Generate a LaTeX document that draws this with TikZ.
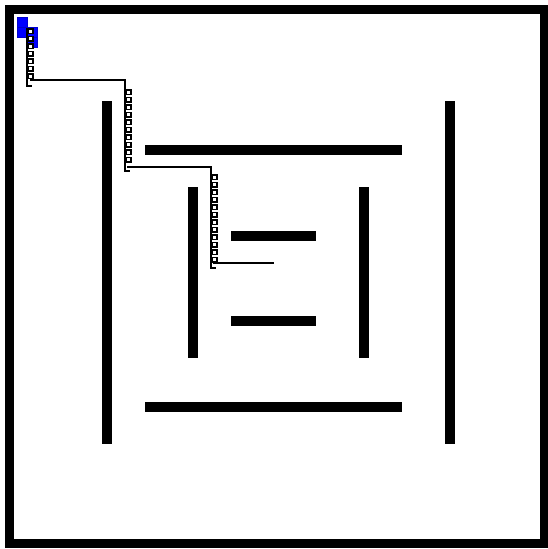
\documentclass[tikz,border=0pt]{standalone}
\usetikzlibrary{calc}

\begin{document}
\begin{tikzpicture}[
  x=1pt, y=-1pt,
  border/.style={draw=black,line width=9pt},
  wall/.style  ={fill=black},
  trail/.style ={draw=black,line width=1.6pt},
  tick/.style  ={draw=black,line width=1.3pt,fill=white},
  start/.style ={fill=blue,draw=blue!80!black,line width=0.4pt},
]

%% ===== Frame =================================================================
\useasboundingbox (0,0) rectangle (548,549);
\draw[border] (9.5,9.5) rectangle (544,543);

%% ===== Walls =================================================================
\fill[wall] (102,101) rectangle (112,444);   % outer left
\fill[wall] (445,101) rectangle (455,444);   % outer right
\fill[wall] (145,145) rectangle (402,155);   % outer top
\fill[wall] (145,402) rectangle (402,412);   % outer bottom
\fill[wall] (188,187) rectangle (198,358);   % inner left
\fill[wall] (359,187) rectangle (369,358);   % inner right
\fill[wall] (231,231) rectangle (316,241);   % centre top
\fill[wall] (231,316) rectangle (316,326);   % centre bottom

%% ===== Start cells ===========================================================
\foreach \cx/\cy in {17/17, 17/27, 27/27, 27/37} {
  \fill[start] (\cx,\cy) rectangle ++(10,10);
}

%% ===== Trail =================================================================
\coordinate (s0) at (27,28);
\coordinate (a1) at (27,86);
\coordinate (b0) at (30,80);
\coordinate (b1) at (125,80);
\coordinate (b2) at (125,171);
\coordinate (c0) at (127,167);
\coordinate (c1) at (211,167);
\coordinate (c2) at (211,268);
\coordinate (d0) at (213,263);
\coordinate (d1) at (274,263);

\draw[trail] (s0) -- (a1) -- ++(5,0);
\draw[trail] (b0) -- (b1) -- (b2) -- ++(5,0);
\draw[trail] (c0) -- (c1) -- (c2) -- ++(5,0);
\draw[trail] (d0) -- (d1);

%% ===== Step marks along the trail ===========================================
\foreach \sy in {29,36.5,...,76} {
  \draw[tick] (28.5,\sy) rectangle ++(4.5,4.5);
}
\foreach \sy in {90,97.5,...,163} {
  \draw[tick] (126.5,\sy) rectangle ++(4.5,4.5);
}
\foreach \sy in {175,182.5,...,259} {
  \draw[tick] (212.5,\sy) rectangle ++(4.5,4.5);
}

\end{tikzpicture}
\end{document}
